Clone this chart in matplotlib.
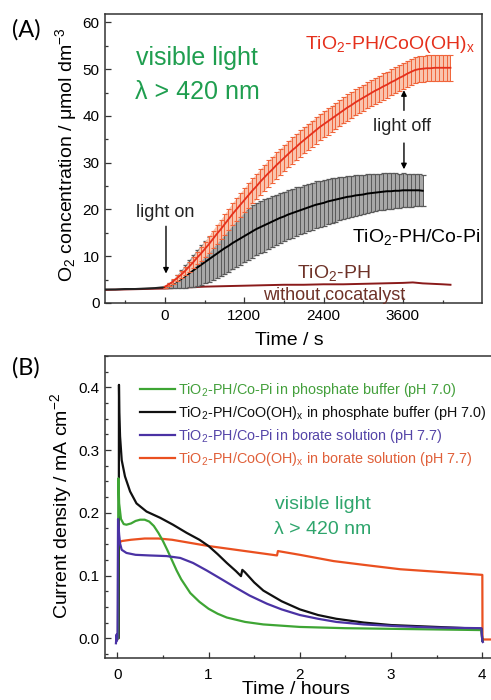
import matplotlib
matplotlib.use('Agg')
import matplotlib.pyplot as plt
import numpy as np
from matplotlib.ticker import MultipleLocator

plt.rcParams['font.family'] = ['Liberation Sans', 'DejaVu Sans']
plt.rcParams['mathtext.fontset'] = 'custom'
plt.rcParams['mathtext.rm'] = 'Liberation Sans'
plt.rcParams['mathtext.default'] = 'regular'

# ---------------- panel A data (time in s, O2 in umol dm-3) ----------------
STEP_A = 60
pre_t = [-900, -750, -600, -450, -300, -150, 0]
pre_v = [2.9, 2.9, 3.0, 3.0, 3.1, 3.2, 3.4]

red_v = [3.5, 4.0, 4.6, 5.3, 6.0, 6.8, 7.7, 8.6, 9.6, 10.5, 11.5, 12.5, 13.6, 14.7, 15.7, 16.8,
         17.9, 19.0, 20.0, 21.0, 22.0,
         23.0, 24.0, 24.9, 25.9, 26.8, 27.7, 28.5, 29.4, 30.2, 31.0, 31.8, 32.6, 33.3, 34.1, 34.8,
         35.5, 36.2, 36.9, 37.6, 38.2,
         38.8, 39.4, 40.0, 40.6, 41.2, 41.8, 42.3, 42.9, 43.4, 43.9, 44.4, 44.9, 45.4, 45.8, 46.3,
         46.7, 47.2, 47.6, 48.1, 48.5,
         49.0, 49.4, 49.8, 50.0, 50.1, 50.2, 50.2, 50.3, 50.3, 50.3, 50.3, 50.3]
red_err = [0.2, 0.3, 0.45, 0.6, 0.75, 0.9, 1.05, 1.2, 1.35, 1.5, 1.65, 1.8, 1.9, 2.0, 2.1, 2.2,
           2.3, 2.4, 2.5, 2.55, 2.6,
           2.65, 2.7, 2.7, 2.75, 2.75] + [2.8] * 47

black_v = [3.4, 3.7, 4.1, 4.6, 5.1, 5.7, 6.3, 6.9, 7.5, 8.1, 8.7, 9.3, 9.9, 10.5, 11.1, 11.7,
           12.2, 12.8, 13.3, 13.8, 14.3,
           14.8, 15.3, 15.8, 16.2, 16.6, 17.0, 17.4, 17.8, 18.2, 18.5, 18.9, 19.2, 19.5, 19.8, 20.1,
           20.4, 20.7, 21.0, 21.2, 21.4,
           21.7, 21.9, 22.1, 22.3, 22.5, 22.7, 22.8, 23.0, 23.1, 23.2, 23.4, 23.5, 23.6, 23.7, 23.8,
           23.9, 23.9, 24.0, 24.0, 24.1,
           24.1, 24.1, 24.1, 24.1, 24.0]
black_err = [0.2, 0.5, 0.9, 1.4, 1.9, 2.4, 2.9, 3.4, 3.8, 4.2, 4.5, 4.8, 5.0, 5.2, 5.4, 5.5,
             5.6, 5.6, 5.6, 5.6, 5.6, 5.6, 5.6, 5.6, 5.6, 5.6,
             5.5, 5.5, 5.4, 5.4, 5.3, 5.3, 5.2, 5.2, 5.1, 5.1, 5.0, 5.0, 5.0, 4.9, 4.9,
             4.8, 4.8, 4.7, 4.6, 4.5, 4.5, 4.4, 4.3, 4.2, 4.2, 4.1, 4.0, 4.0, 3.9, 3.9,
             3.8, 3.8, 3.7, 3.6, 3.6, 3.5, 3.5, 3.4, 3.4, 3.3]

bare_t = [-900, -600, -300, 0, 300, 600, 900, 1200, 1500, 1800, 2100, 2400, 2700, 3000, 3300,
          3600, 3750, 3900, 4200, 4320]
bare_v = [2.8, 2.9, 3.0, 3.1, 3.3, 3.5, 3.6, 3.7, 3.8, 3.9, 3.9, 4.0, 4.0, 4.1, 4.2,
          4.3, 4.4, 4.2, 4.0, 3.9]

red_t = np.arange(len(red_v)) * STEP_A
black_t = np.arange(len(black_v)) * STEP_A

# ---------------- panel B data (time in h, current in mA cm-2) ----------------
green_t = [-0.01, 0.0, 0.008, 0.012, 0.02, 0.04, 0.07, 0.1, 0.15, 0.2, 0.25, 0.3, 0.35, 0.4,
           0.45, 0.5, 0.55, 0.6, 0.65, 0.7, 0.8, 0.9, 1.0, 1.1, 1.2, 1.4, 1.6, 1.8, 2.0, 2.5,
           3.0, 3.5, 3.99, 4.0]
green_j = [0.0, 0.0, 0.0, 0.255, 0.215, 0.19, 0.182, 0.181, 0.183, 0.187, 0.189, 0.189, 0.186,
           0.179, 0.168, 0.155, 0.14, 0.124, 0.108, 0.094, 0.072, 0.058, 0.047, 0.039, 0.033,
           0.026, 0.022, 0.020, 0.018, 0.016, 0.015, 0.014, 0.013, -0.004]

black_bt = [-0.01, 0.0, 0.015, 0.018, 0.022, 0.03, 0.048, 0.084, 0.14, 0.21, 0.32, 0.47, 0.61,
            0.76, 0.9, 1.0, 1.1, 1.2, 1.3, 1.355, 1.37, 1.4, 1.5, 1.6, 1.8, 2.0, 2.2, 2.4, 2.7,
            3.0, 3.5, 3.99, 4.0]
black_bj = [0.0, 0.0, 0.0, 0.404, 0.36, 0.322, 0.284, 0.258, 0.234, 0.215, 0.202, 0.192, 0.181,
            0.168, 0.157, 0.147, 0.134, 0.12, 0.107, 0.099, 0.109, 0.105, 0.089, 0.076, 0.059,
            0.046, 0.037, 0.031, 0.025, 0.021, 0.018, 0.015, -0.004]

purple_t = [-0.015, -0.008, -0.004, 0.002, 0.008, 0.02, 0.03, 0.048, 0.1, 0.2, 0.35, 0.54,
            0.69, 0.83, 0.98, 1.12, 1.27, 1.45, 1.64, 1.8, 2.0, 2.2, 2.4, 2.7, 3.1, 3.5, 3.99,
            4.0, 4.005]
purple_j = [-0.008, 0.006, -0.004, 0.002, 0.19, 0.165, 0.151, 0.141, 0.136, 0.133, 0.132,
            0.131, 0.128, 0.12, 0.108, 0.096, 0.083, 0.068, 0.055, 0.046, 0.037, 0.031, 0.026,
            0.022, 0.019, 0.017, 0.016, -0.005, -0.006]

orange_t = [0.008, 0.01, 0.05, 0.15, 0.3, 0.45, 0.6, 0.8, 1.0, 1.2, 1.4, 1.6, 1.75, 1.76, 1.8,
            2.0, 2.37, 2.7, 3.1, 3.5, 3.8, 4.0, 4.002, 4.01, 4.1]
orange_j = [0.0, 0.152, 0.155, 0.157, 0.159, 0.159, 0.157, 0.152, 0.147, 0.143, 0.139, 0.135,
            0.132, 0.139, 0.138, 0.133, 0.123, 0.117, 0.110, 0.106, 0.103, 0.101, -0.005,
            -0.002, -0.002]

legend_labels = [
    'TiO$_2$-PH/Co-Pi in phosphate buffer (pH 7.0)',
    'TiO$_2$-PH/CoO(OH)$_x$ in phosphate buffer (pH 7.0)',
    'TiO$_2$-PH/Co-Pi in borate solution (pH 7.7)',
    'TiO$_2$-PH/CoO(OH)$_x$ in borate solution (pH 7.7)',
]

RED = '#e5301c'
RED_ERR = '#f0643a'
BROWN = '#8a1a1a'
GREEN_A = '#1f9e4f'
C_GREEN = '#3ea534'
C_BLACK = '#101010'
C_PURPLE = '#4a32a4'
C_ORANGE = '#ea5020'
SPINE = '#333333'

fig = plt.figure(figsize=(4.91, 7.0), dpi=100)


def style_axes(ax):
    for s in ax.spines.values():
        s.set_color(SPINE)
        s.set_linewidth(1.1)
    ax.tick_params(which='both', direction='in', top=False, right=False, labelsize=11,
                   color=SPINE, width=0.9, pad=4)
    ax.tick_params(which='major', length=4.5)
    ax.tick_params(which='minor', length=2.5)


# ---------------- panel A ----------------
axA = fig.add_axes([105 / 491, 1 - 303 / 700, 377 / 491, 289 / 700])
style_axes(axA)
axA.set_xlim(-908, 4797)
axA.set_ylim(0, 61.8)
axA.xaxis.set_major_locator(MultipleLocator(1200))
axA.xaxis.set_minor_locator(MultipleLocator(600))
axA.yaxis.set_major_locator(MultipleLocator(10))
axA.yaxis.set_minor_locator(MultipleLocator(5))

red_lo = np.array(red_v) - np.array(red_err)
red_hi = np.array(red_v) + np.array(red_err)
blk_lo = np.array(black_v) - np.array(black_err)
blk_hi = np.array(black_v) + np.array(black_err)

axA.plot(bare_t, bare_v, color=BROWN, lw=1.4, zorder=2)
axA.plot(pre_t, pre_v, color='#222222', lw=1.4, zorder=3)
axA.fill_between(black_t, blk_lo, blk_hi, color='#a8a8a8', lw=0, zorder=2.5)
axA.errorbar(black_t, black_v, yerr=black_err, fmt='-', color='black', lw=1.4, ecolor='#5a5a5a',
             elinewidth=0.7, capsize=1.8, capthick=0.9, zorder=3)
axA.fill_between(red_t, red_lo, red_hi, color='#f9c4ae', lw=0, zorder=3.5)
axA.errorbar(red_t, red_v, yerr=red_err, fmt='-', color=RED, lw=1.3, ecolor=RED_ERR,
             elinewidth=0.7, capsize=1.8, capthick=0.8, zorder=4)

axA.set_xlabel('Time / s', fontsize=14)
axA.xaxis.set_label_coords(0.49, -0.1)
axA.set_ylabel('O$_2$ concentration / μmol dm$^{-3}$', fontsize=14)
axA.yaxis.set_label_coords(-0.07, 0.514)

axA.text(490, 52.3, 'visible light', color=GREEN_A, fontsize=18, ha='center', va='center')
axA.text(490, 45.2, 'λ > 420 nm', color=GREEN_A, fontsize=18, ha='center', va='center')
axA.text(4690, 55.3, 'TiO$_2$-PH/CoO(OH)$_x$', color=RED, fontsize=14, ha='right', va='center')
axA.text(4770, 14.1, 'TiO$_2$-PH/Co-Pi', color='black', fontsize=14, ha='right', va='center')
axA.text(2550, 6.4, 'TiO$_2$-PH', color='#6e3228', fontsize=14, ha='center', va='center')
axA.text(2560, 1.6, 'without cocatalyst', color='#6e3228', fontsize=13, ha='center', va='center')
axA.text(0, 19.4, 'light on', color='#222222', fontsize=13, ha='center', va='center')
axA.text(3590, 37.7, 'light off', color='#222222', fontsize=13, ha='center', va='center')
arrow = dict(arrowstyle='-|>', color='black', lw=1.0, mutation_scale=8)
axA.annotate('', xy=(15, 5.7), xytext=(15, 17.0), arrowprops=arrow)
axA.annotate('', xy=(3616, 46.1), xytext=(3616, 40.6), arrowprops=arrow)
axA.annotate('', xy=(3616, 28.0), xytext=(3616, 34.8), arrowprops=arrow)

fig.text(12 / 491, 1 - 30 / 700, '(A)', fontsize=17, family='Lato', ha='left', va='center')

# ---------------- panel B ----------------
axB = fig.add_axes([105 / 491, 1 - 658.3 / 700, 386 / 491, 302.3 / 700])
style_axes(axB)
axB.spines['right'].set_visible(False)
axB.set_xlim(-0.135, 4.095)
axB.set_ylim(-0.032, 0.45)
axB.xaxis.set_major_locator(MultipleLocator(1))
axB.xaxis.set_minor_locator(MultipleLocator(0.5))
axB.yaxis.set_major_locator(MultipleLocator(0.1))
axB.yaxis.set_minor_locator(MultipleLocator(0.025))
axB.yaxis.set_major_formatter(matplotlib.ticker.FormatStrFormatter('%.1f'))
axB.tick_params(axis='x', pad=7)

axB.plot(orange_t, orange_j, color=C_ORANGE, lw=1.6, label=legend_labels[3], zorder=2)
axB.plot(black_bt, black_bj, color=C_BLACK, lw=1.6, label=legend_labels[1], zorder=3)
axB.plot(green_t, green_j, color=C_GREEN, lw=1.6, label=legend_labels[0], zorder=4)
axB.plot(purple_t, purple_j, color=C_PURPLE, lw=1.6, label=legend_labels[2], zorder=5)

handles, labels = axB.get_legend_handles_labels()
order = [2, 1, 3, 0]
leg = axB.legend([handles[i] for i in order], [labels[i] for i in order],
                 loc='upper left', bbox_to_anchor=(0.091, 0.918), frameon=False, fontsize=10.4,
                 handlelength=2.4, handletextpad=0.2, borderpad=0, borderaxespad=0,
                 labelspacing=0.36)
for txt, col in zip(leg.get_texts(), ['#44a03c', '#111111', '#5545a8', '#e0603a']):
    txt.set_color(col)

axB.text(2.25, 0.213, 'visible light', color='#2ea56c', fontsize=14, ha='center', va='center')
axB.text(2.25, 0.174, 'λ > 420 nm', color='#2ea56c', fontsize=14, ha='center', va='center')

axB.set_xlabel('Time / hours', fontsize=14)
axB.xaxis.set_label_coords(0.495, -0.075)
axB.set_ylabel('Current density / mA cm$^{-2}$', fontsize=14)
axB.yaxis.set_label_coords(-0.08, 0.504)

fig.text(12 / 491, 1 - 368 / 700, '(B)', fontsize=17, family='Lato', ha='left', va='center')

fig.savefig('out.png', dpi=100)
